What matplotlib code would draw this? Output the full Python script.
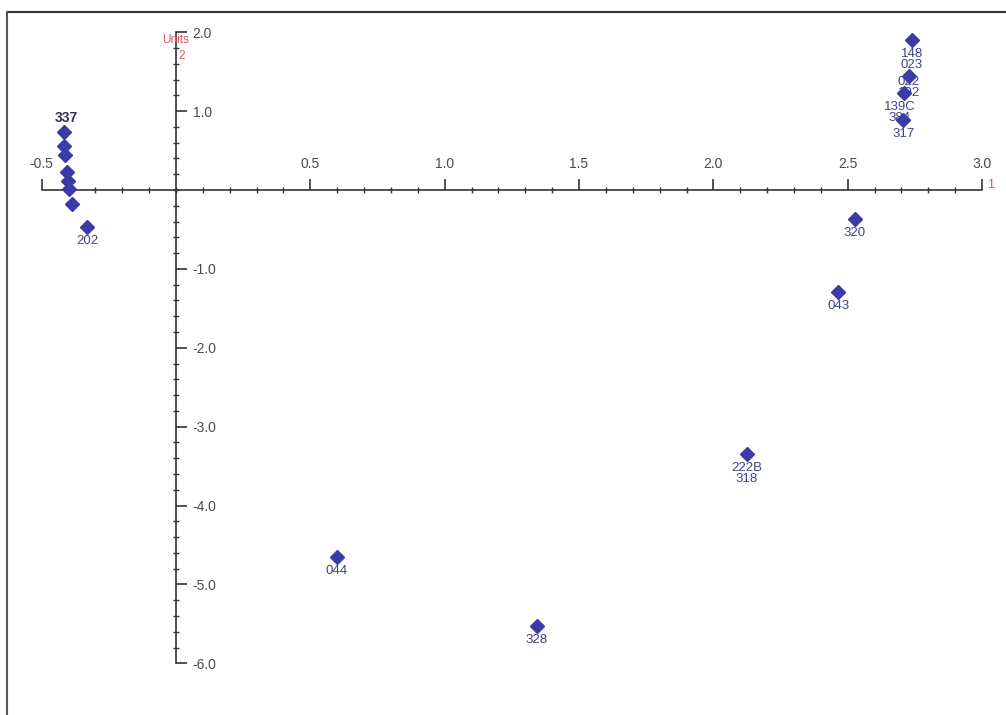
import numpy as np
import matplotlib.pyplot as plt
from matplotlib.lines import Line2D

plt.rcParams['font.family'] = ['Liberation Sans', 'DejaVu Sans']

# score coordinates (component 1, component 2)
x_vals = [-0.417, -0.417, -0.413, -0.406, -0.402, -0.398, -0.387, -0.331,
          2.739, 2.728, 2.709, 2.706, 2.527, 2.464, 2.125, 0.599, 1.343]
y_vals = [0.735, 0.558, 0.444, 0.228, 0.114, 0.013, -0.177, -0.469,
          1.901, 1.445, 1.229, 0.887, -0.368, -1.293, -3.346, -4.651, -5.526]
labels = ['', '', '', '', '', '', '', '202',
          '148\n023', '022\n192', '139C\n384', '317', '320', '043', '222B\n318', '044', '328']
# label offsets in points (dx, dy)
offsets = [(0, -6)] * 8 + [(0, -6), (0, 0), (-3, -6), (0, -6)] + [(0, -6)] * 5

xticks = [-0.5, 0.5, 1.0, 1.5, 2.0, 2.5, 3.0]
yticks = [2.0, 1.0, -1.0, -2.0, -3.0, -4.0, -5.0, -6.0]

fig = plt.figure(figsize=(10.06, 7.15), dpi=100)
ax = fig.add_axes([0, 0, 1, 1])
ax.set_xlim(-0.655, 3.089)
ax.set_ylim(-6.654, 2.408)

axcol = '#333333'
for s in ['left', 'bottom']:
    ax.spines[s].set_visible(False)
ax.spines['top'].set_position(('data', 0))
ax.spines['right'].set_position(('data', 0))
ax.spines['top'].set_bounds(-0.5, 3.0)
ax.spines['right'].set_bounds(-6.0, 2.0)
for s in ['top', 'right']:
    ax.spines[s].set_color(axcol)
    ax.spines[s].set_linewidth(1.2)

ax.xaxis.set_ticks_position('top')
ax.yaxis.set_ticks_position('right')
ax.set_xticks(xticks)
ax.set_xticklabels([f'{t:.1f}' for t in xticks])
ax.set_yticks(yticks)
ax.set_yticklabels([f'{t:.1f}' for t in yticks])
ax.set_xticks(np.arange(-0.5, 3.01, 0.1), minor=True)
ax.set_yticks(np.arange(-6.0, 2.01, 0.2), minor=True)
ax.tick_params(axis='both', which='major', direction='out', length=8, width=1.2,
               color=axcol, labelsize=10, labelcolor='#4a4a4a')
ax.tick_params(axis='x', which='major', pad=6)
ax.tick_params(axis='y', which='major', pad=4)
ax.tick_params(axis='both', which='minor', direction='inout', length=5, width=1,
               color=axcol)

ax.plot(x_vals, y_vals, 'D', ms=7, color='#3b3ba6', mec='#3b3ba6', zorder=5)
for xv, yv, lab, off in zip(x_vals, y_vals, labels, offsets):
    if lab:
        ax.annotate(lab, (xv, yv), xytext=off, textcoords='offset points',
                    ha='center', va='top', fontsize=9.5, color='#3f4585',
                    linespacing=0.85)
ax.annotate('337', (x_vals[0], y_vals[0]), xytext=(2, 5), textcoords='offset points',
            ha='center', va='bottom', fontsize=10, fontweight='bold', color='#333355')

# axis names
ax.text(3.02, 0.063, '1', color='#e05565', fontsize=9, ha='left', va='center')
ax.text(0.0, 1.90, 'Units', color='#e05565', fontsize=8.5, ha='center', va='center')
ax.text(0.02, 1.70, '2', color='#e05565', fontsize=8.5, ha='center', va='center')

# window frame
fig.add_artist(Line2D([8 / 1006, 1], [1 - 12 / 715] * 2, color='#333333', lw=1.5))
fig.add_artist(Line2D([7 / 1006] * 2, [0, 1 - 12 / 715], color='#555555', lw=1.5))

fig.savefig('out.png', dpi=100)
